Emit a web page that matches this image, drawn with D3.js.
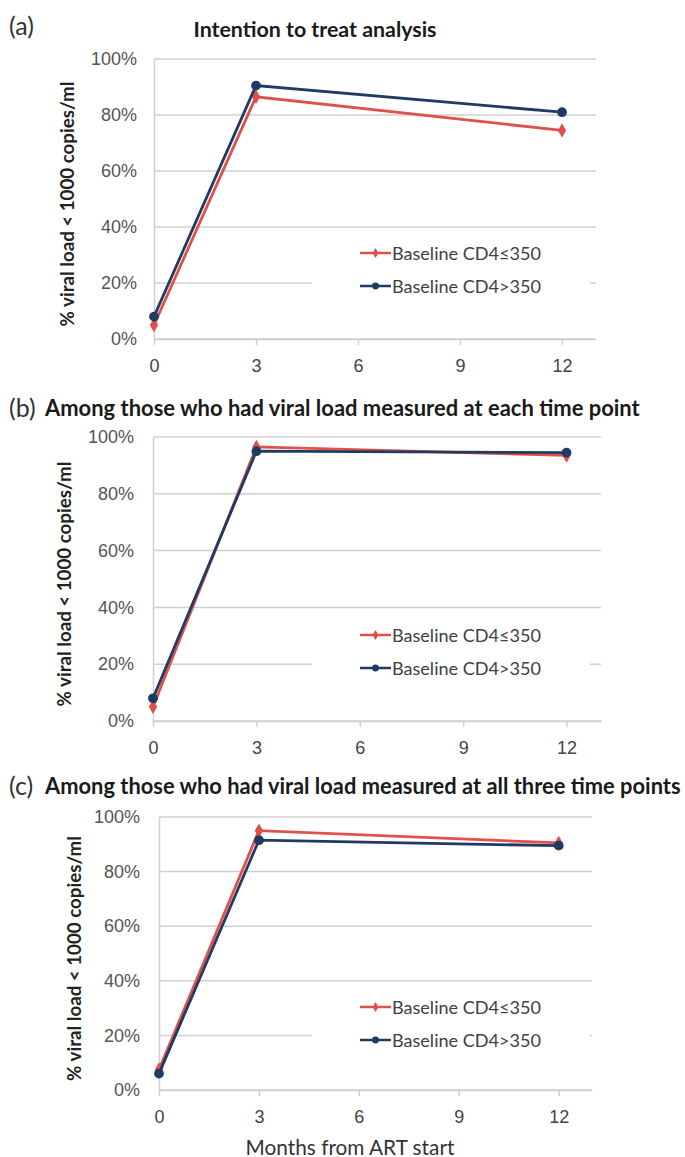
<!DOCTYPE html>
<html>
<head>
<meta charset="utf-8">
<script src="https://cdn.jsdelivr.net/npm/d3@7"></script>
<style>
  body { margin: 0; background: #fff; }
  svg { display: block; font-family: Lato, "Noto Sans", sans-serif; }
</style>
</head>
<body>
<script>
// months at which viral load was measured
const months = [0, 3, 12];
const xTicks = [0, 3, 6, 9, 12];
const yTicks = [0, 20, 40, 60, 80, 100];
const seriesNames = ["Baseline CD4\u2264350", "Baseline CD4>350"];

// % with viral load < 1000 copies/ml
const ittLow = [5, 86.5, 74.5];
const ittHigh = [8, 90.5, 81];
const eachLow = [5, 96.5, 93.5];
const eachHigh = [8, 95, 94.5];
const allLow = [7.5, 95, 90.5];
const allHigh = [6, 91.5, 89.5];

const panelLetters = ["(a)", "(b)", "(c)"];
const panelTitles = [
  "Intention to treat analysis",
  "Among those who had viral load measured at each time point",
  "Among those who had viral load measured at all three time points"
];
const yLabel = "% viral load < 1000 copies/ml";
const xLabel = "Months from ART start";

const w = 685;
const h = 1157;
const red = "#e0514b";
const blue = "#1f3b63";
const grid = "#d0d0d0";

const svg = d3.select("body")
  .append("svg")
  .attr("width", w)
  .attr("height", h);

// shrink/grow font so the text takes the given width (Calibri is not installed)
function fit(sel, width) {
  const size = +sel.attr("font-size");
  const len = sel.node().getComputedTextLength();
  sel.attr("font-size", size * width / len);
  return sel;
}

const panels = [
  { low: ittLow, high: ittHigh, x0: 154, x1: 596, y0: 339, y1: 59, letterY: 25, titleX: 315, titleY: 29, anchor: "middle", titleW: 243, legendY: 253, yLabX: 67, tickLabX: 137 },
  { low: eachLow, high: eachHigh, x0: 153, x1: 601, y0: 721, y1: 437, letterY: 407, titleX: 45, titleY: 407, anchor: "start", titleW: 595, legendY: 635, yLabX: 64, tickLabX: 134 },
  { low: allLow, high: allHigh, x0: 159, x1: 592, y0: 1090, y1: 817, letterY: 785, titleX: 45, titleY: 785, anchor: "start", titleW: 636, legendY: 1007, yLabX: 74, tickLabX: 140 }
];

panels.forEach((p, i) => {
  const xScale = d3.scaleLinear()
    .domain([0, 13])
    .range([p.x0, p.x1]);

  const yScale = d3.scaleLinear()
    .domain([0, 100])
    .range([p.y0, p.y1]);

  const g = svg.append("g");

  // gridlines
  g.append("g")
    .selectAll("line")
    .data(yTicks)
    .enter()
    .append("line")
    .attr("x1", p.x0)
    .attr("x2", p.x1)
    .attr("y1", d => yScale(d))
    .attr("y2", d => yScale(d))
    .attr("stroke", grid)
    .attr("stroke-width", 1.5);

  // y axis
  const yAxis = d3.axisLeft(yScale)
    .tickValues(yTicks)
    .tickSize(0)
    .tickPadding(p.x0 - p.tickLabX)
    .tickFormat(d => d + "%");

  g.append("g")
    .attr("transform", "translate(" + p.x0 + ",0)")
    .call(yAxis)
    .call(a => a.select(".domain").attr("stroke", grid).attr("stroke-width", 1.5))
    .call(a => a.selectAll("text").attr("fill", "#555").attr("font-size", 18));

  // x axis
  const xAxis = d3.axisBottom(xScale)
    .tickValues(xTicks)
    .tickSize(6)
    .tickPadding(14)
    .tickSizeOuter(0);

  g.append("g")
    .attr("transform", "translate(0," + p.y0 + ")")
    .call(xAxis)
    .call(a => a.select(".domain").attr("stroke", grid).attr("stroke-width", 1.5))
    .call(a => a.selectAll(".tick line").attr("stroke", grid).attr("stroke-width", 1.5))
    .call(a => a.selectAll("text").attr("fill", "#444").attr("font-size", 18));

  // y axis title
  const cy = (p.y0 + p.y1) / 2 + 5;
  g.append("text")
    .attr("transform", "translate(" + p.yLabX + "," + cy + ") rotate(-90)")
    .attr("text-anchor", "middle")
    .attr("dominant-baseline", "central")
    .attr("font-weight", "bold")
    .attr("font-size", 16)
    .attr("fill", "#222")
    .text(yLabel)
    .call(fit, 245);

  // panel letter and title
  g.append("text")
    .attr("x", 9)
    .attr("y", p.letterY)
    .attr("dominant-baseline", "central")
    .attr("font-size", 25)
    .attr("fill", "#333")
    .text(panelLetters[i]);

  g.append("text")
    .attr("x", p.titleX)
    .attr("y", p.titleY)
    .attr("text-anchor", p.anchor)
    .attr("dominant-baseline", "central")
    .attr("font-weight", "bold")
    .attr("font-size", 20)
    .attr("fill", "#1a1a1a")
    .text(panelTitles[i])
    .call(fit, p.titleW);

  // legend box (white, covers gridline)
  const legend = g.append("g")
    .attr("transform", "translate(360," + p.legendY + ")");

  legend.append("rect")
    .attr("x", -48)
    .attr("y", -16)
    .attr("width", 278)
    .attr("height", 66)
    .attr("fill", "#fff");

  const series = [
    { name: seriesNames[0], values: p.low, color: red, shape: d3.symbolDiamond, size: 60 },
    { name: seriesNames[1], values: p.high, color: blue, shape: d3.symbolCircle, size: 75 }
  ];

  const line = d3.line()
    .x((d, j) => xScale(months[j]))
    .y(d => yScale(d));

  series.forEach((s, k) => {
    g.append("path")
      .datum(s.values)
      .attr("d", line)
      .attr("fill", "none")
      .attr("stroke", s.color)
      .attr("stroke-width", 2.8);

    g.selectAll(".pt" + k)
      .data(s.values)
      .enter()
      .append("path")
      .attr("class", "pt" + k)
      .attr("transform", (d, j) => "translate(" + xScale(months[j]) + "," + yScale(d) + ")")
      .attr("d", d3.symbol().type(s.shape).size(s.size))
      .attr("fill", s.color);

    const ly = k * 33;
    legend.append("line")
      .attr("x1", 0)
      .attr("x2", 31)
      .attr("y1", ly)
      .attr("y2", ly)
      .attr("stroke", s.color)
      .attr("stroke-width", 2.5);

    legend.append("path")
      .attr("transform", "translate(15.5," + ly + ")")
      .attr("d", d3.symbol().type(s.shape).size(s.size * 0.5))
      .attr("fill", s.color);

    legend.append("text")
      .attr("x", 32)
      .attr("y", ly)
      .attr("dominant-baseline", "central")
      .attr("font-size", 18)
      .attr("fill", "#404040")
      .text(s.name)
      .call(fit, 149);
  });
});

svg.append("text")
  .attr("x", 350)
  .attr("y", 1146)
  .attr("text-anchor", "middle")
  .attr("dominant-baseline", "central")
  .attr("font-size", 20)
  .attr("fill", "#333")
  .text(xLabel)
  .call(fit, 209);
</script>
</body>
</html>
